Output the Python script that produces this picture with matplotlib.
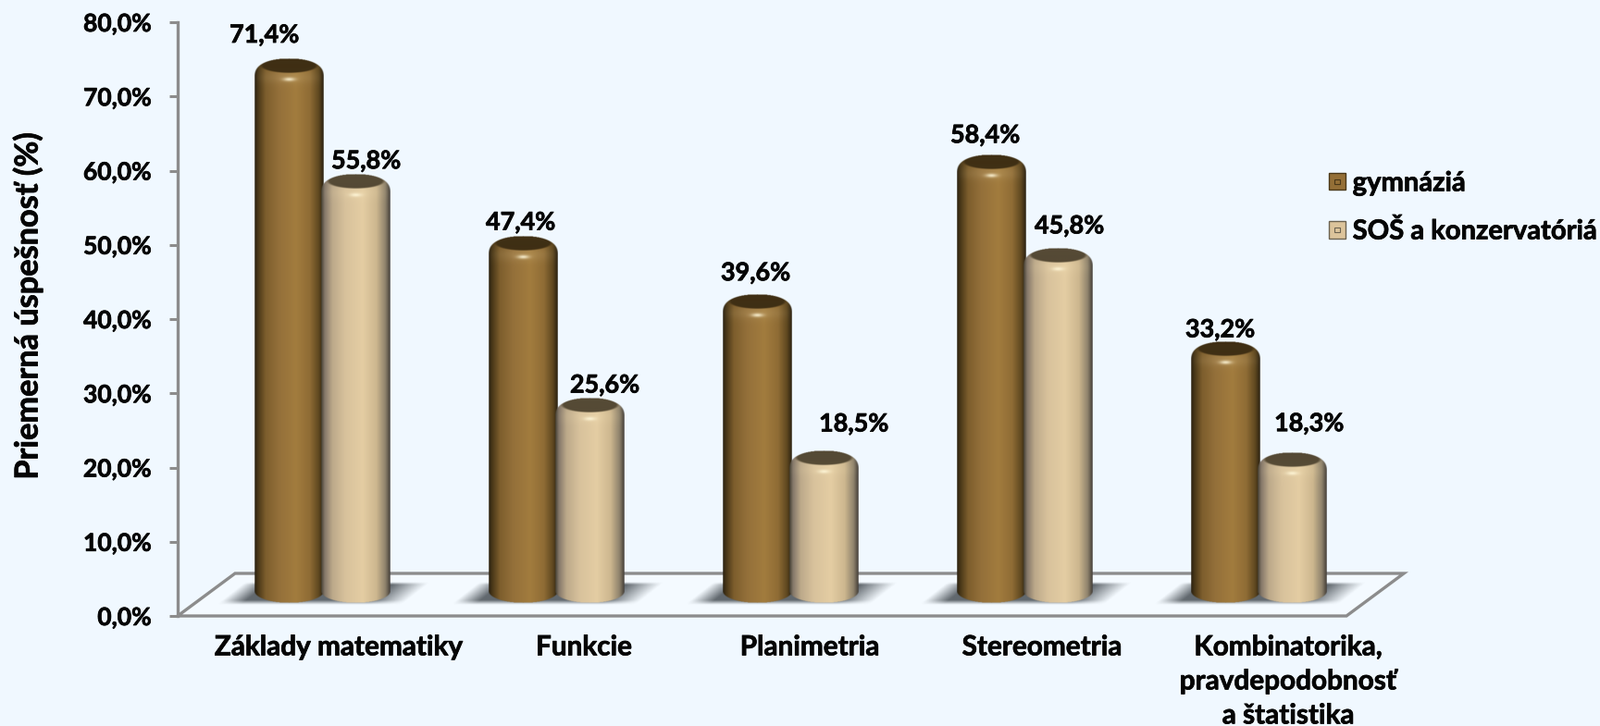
import numpy as np
import matplotlib
matplotlib.use("Agg")
import matplotlib.pyplot as plt
import matplotlib.patheffects as pe
from matplotlib.colors import to_rgb, LinearSegmentedColormap
from matplotlib.legend_handler import HandlerBase
from matplotlib.patches import Rectangle, Patch, Polygon

categories = ["Základy matematiky", "Funkcie", "Planimetria", "Stereometria",
              "Kombinatorika,\npravdepodobnosť\na štatistika"]
series_names = ["gymnáziá", "SOŠ a konzervatóriá"]
gymnazia = [71.4, 47.4, 39.6, 58.4, 33.2]
sos = [55.8, 25.6, 18.5, 45.8, 18.3]
y_ticks = [0, 10, 20, 30, 40, 50, 60, 70, 80]
y_label = "Priemerná úspešnosť (%)"

# layout, in figure pixels
W, H = 1729, 785
AX_L, AX_R, AX_TOP, AX_BOT = 192, 1455, 24, 666
GROUP0, GROUP_STEP = 348.5, 253.0
BAR_W, BAR_OFF = 75, 36.0
DEPTH_X, DEPTH_Y = 62, 46
BG = "#F0F8FF"
AXC = "#8C8C8C"
TXT = "#050505"
FONT = "Lato"
PX_Y = (AX_BOT - AX_TOP) / 80.0
HEAVY = [pe.withStroke(linewidth=0.55, foreground=TXT)]

# label placement: pixel offsets from (bar centre, value height)
gym_lab_off = [(-27, 55), (-3, 45), (-2, 53), (-7, 51), (-6, 43)]
sos_lab_off = [(11, 44), (16, 44), (32, 59), (12, 54), (18, 61)]
xlabel_px = [366, 631, 875, 1126, 1392]

STOPS_BROWN = [(0, "#2b2110"), (.05, "#4a3818"), (.16, "#7d5e2d"), (.35, "#94703a"),
               (.6, "#a27c3e"), (.8, "#8f6c35"), (.93, "#5f4820"), (1, "#2b2110")]
STOPS_TAN = [(0, "#4a4438"), (.05, "#85786a"), (.16, "#bca98a"), (.35, "#d8c29c"),
             (.6, "#e4cda3"), (.8, "#cdb78f"), (.93, "#8f836c"), (1, "#45403a")]
CAP_BROWN, CAP_TAN = "#3f2f14", "#554a35"

plt.rcParams["font.family"] = [FONT, "DejaVu Sans"]
plt.rcParams["font.weight"] = "bold"
fig = plt.figure(figsize=(W / 100, H / 100), dpi=100, facecolor=BG)
ax = fig.add_axes([AX_L / W, 1 - AX_BOT / H, (AX_R - AX_L) / W, (AX_BOT - AX_TOP) / H],
                  facecolor="none")
xlim = ((AX_L - GROUP0) / GROUP_STEP, (AX_R - GROUP0) / GROUP_STEP)
px_x = 1 / GROUP_STEP
px_y = 1 / PX_Y


def smooth(a):
    return np.clip(a, 0, 1)


def draw_floor():
    y_back = DEPTH_Y * px_y
    dx = DEPTH_X * px_x
    pts = [(xlim[0], 0), (xlim[1], 0), (xlim[1] + dx, y_back), (xlim[0] + dx, y_back)]
    ax.add_patch(Polygon(pts, closed=True, facecolor="#F4FAFF", edgecolor=AXC, lw=2.4,
                         clip_on=False, zorder=1, joinstyle="miter"))


def draw_shadow(center):
    # soft sheared shadow under a pair of cylinders
    x0_px, x1_px = -125, 135
    top_px, bot_px = 37, 12
    w, h = int(x1_px - x0_px) * 2, int(top_px - bot_px) * 2
    xs = np.linspace(x0_px, x1_px, w)
    ys = np.linspace(top_px, bot_px, h)
    X, Y = np.meshgrid(xs, ys)
    Xs = X - (Y - bot_px) * 1.25 + 12
    a = smooth((Xs + 103) / 26) * smooth((97 - Xs) / 38)
    a = a * smooth((top_px - Y) / 3) * smooth((Y - bot_px) / 5)
    img = np.zeros((h, w, 4))
    img[..., :3] = to_rgb("#62686E")
    img[..., 3] = a
    ax.imshow(img, extent=(center + x0_px * px_x, center + x1_px * px_x,
                           bot_px * px_y, top_px * px_y),
              aspect="auto", origin="upper", zorder=2, clip_on=False, interpolation="bilinear")


def draw_cylinder(xc, value, stops, cap, z):
    top_px = AX_BOT - value * PX_Y - 30
    bot_px = AX_BOT - 14
    T = bot_px - top_px
    nx, ny = BAR_W * 2, int(T * 2)
    u = np.linspace(-1, 1, nx)
    t = np.linspace(0, T, ny)
    U, TT = np.meshgrid(u, t)
    cmap = LinearSegmentedColormap.from_list("c", stops)
    rgb = cmap((U + 1) / 2)[..., :3]
    # shoulder, lighter towards the centre
    band = np.exp(-((TT - 20) / 7) ** 2) * (1 - np.abs(U)) ** 0.6
    rgb = rgb + (np.array([1, .93, .75]) - rgb) * band[..., None] * 0.14
    # glint
    gl = np.exp(-(U / 0.17) ** 2 - ((TT - 22.5) / 2.0) ** 2)
    rgb = rgb + (np.array([1, .97, .85]) - rgb) * gl[..., None] * 0.85
    # upper shoulder falls off into a dark rim
    rim = np.exp(-(TT / 5) ** 2)
    rgb = rgb * (1 - 0.35 * rim[..., None])
    # dark elliptical top
    d = np.sqrt((U / 0.82) ** 2 + ((TT - 7.5) / 8.0) ** 2)
    ca = smooth((1.05 - d) / 0.12)
    rgb = rgb + (np.array(to_rgb(cap)) - rgb) * ca[..., None]
    # silhouette: rounded top, elliptical bottom
    st, eh = 20.0, 12.5
    hw = np.ones_like(TT)
    m = TT < st
    hw[m] = (1 - np.clip((st - TT[m]) / st, 0, 1) ** 2.6) ** (1 / 2.2)
    m = TT > T - eh
    hw[m] = np.sqrt(np.clip(1 - ((TT[m] - (T - eh)) / eh) ** 2, 0, 1))
    alpha = smooth((hw - np.abs(U)) * BAR_W / 2 + 0.5)
    img = np.dstack([np.clip(rgb, 0, 1), alpha])
    ybot = (AX_BOT - bot_px) * px_y
    ytop = value + 30 * px_y
    ax.imshow(img, extent=(xc - BAR_W / 2 * px_x, xc + BAR_W / 2 * px_x, ybot, ytop),
              aspect="auto", origin="upper", zorder=z, clip_on=False, interpolation="bilinear")


draw_floor()
for i in range(len(categories)):
    draw_shadow(i)
    x1, x2 = i - BAR_OFF * px_x, i + BAR_OFF * px_x
    draw_cylinder(x1, gymnazia[i], STOPS_BROWN, CAP_BROWN, 3)
    draw_cylinder(x2, sos[i], STOPS_TAN, CAP_TAN, 4)
    for x, v, off in ((x1, gymnazia[i], gym_lab_off[i]), (x2, sos[i], sos_lab_off[i])):
        ax.annotate(f"{v:.1f}%".replace(".", ","), (x, v), xytext=off,
                    textcoords="offset pixels", ha="center", va="center",
                    fontsize=19.4, fontweight="bold", color=TXT, zorder=6,
                    annotation_clip=False, path_effects=HEAVY)

ax.set_xlim(*xlim)
ax.set_ylim(0, 80)
ax.set_yticks(y_ticks)
ax.set_yticklabels([f"{v:.1f}%".replace(".", ",") for v in y_ticks], fontsize=19,
                   fontweight="bold", color=TXT, path_effects=HEAVY)
ax.tick_params(axis="y", length=6.5, width=2.2, color=AXC, pad=14)
ax.set_xticks([(p - GROUP0) / GROUP_STEP for p in xlabel_px])
ax.set_xticklabels(categories, fontsize=21.4, fontweight="bold", color=TXT, linespacing=1.39,
                   path_effects=HEAVY)
ax.tick_params(axis="x", length=0, pad=14)
for s in ("top", "right", "bottom"):
    ax.spines[s].set_visible(False)
ax.spines["left"].set_color(AXC)
ax.spines["left"].set_linewidth(2.4)
ax.set_zorder(2)
fig.text(30 / W, 1 - 331 / H, y_label, rotation=90, ha="center", va="center",
         fontsize=24.7, fontweight="bold", color=TXT, path_effects=HEAVY)


class SwatchHandler(HandlerBase):
    def create_artists(self, legend, orig, xd, yd, w, h, fs, trans):
        r = Rectangle((-xd, -yd + h / 2 - 6.6), 13.2, 13.2, facecolor=orig.get_facecolor(),
                      edgecolor=orig.get_edgecolor(), lw=1, transform=trans)
        i = Rectangle((-xd + 4.6, -yd + h / 2 - 2), 4, 4, facecolor="none",
                      edgecolor=orig.get_edgecolor(), lw=0.8, transform=trans)
        return [r, i]


handles = [Patch(facecolor="#946F36", edgecolor="#4a3818", label=series_names[0]),
           Patch(facecolor="#DCC49B", edgecolor="#6b6250", label=series_names[1])]
leg = fig.legend(handles=handles, handler_map={Patch: SwatchHandler()}, frameon=False,
                 loc="upper left", bbox_to_anchor=(1436 / W, 1 - 185.5 / H), borderaxespad=0,
                 borderpad=0, handlelength=0.6, handletextpad=0.28, labelspacing=0.86,
                 prop={"family": FONT, "weight": "bold", "size": 21}, labelcolor=TXT)
for t in leg.get_texts():
    t.set_path_effects(HEAVY)

fig.savefig("out.png", dpi=100, facecolor=BG)
